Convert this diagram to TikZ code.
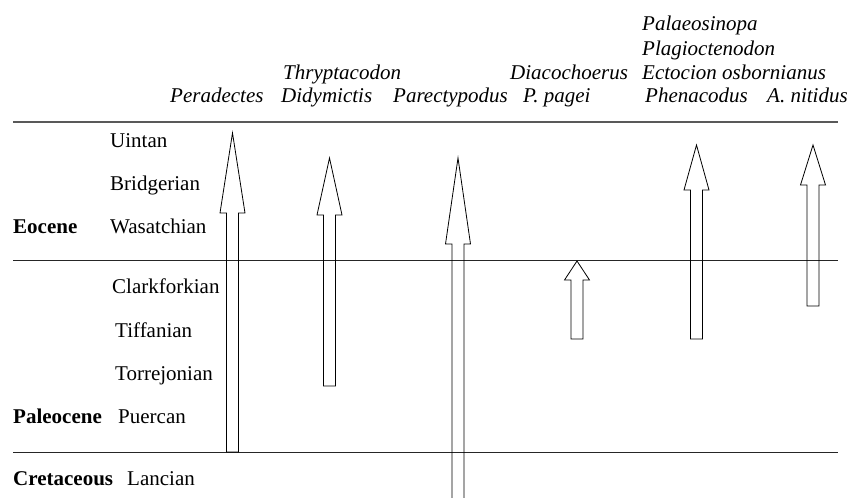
\documentclass[tikz,border=0pt]{standalone}
\usepackage{fontspec}
\setmainfont{Liberation Serif}
\begin{document}
\begin{tikzpicture}[x=1pt,y=-1pt,
  lbl/.style={anchor=base west,inner sep=0pt,font=\fontsize{21}{25}\selectfont},
  taxon/.style={lbl,font=\fontsize{21}{25}\selectfont\itshape},
  epoch/.style={lbl,font=\fontsize{21}{25}\selectfont\bfseries},
  rule/.style={line width=0.9pt,draw=black!85},
  toprule/.style={line width=1.4pt,draw=black!65},
  farrow/.style={line width=0.8pt,draw=black,line join=miter}]
\useasboundingbox (0,0) rectangle (849,498);
\clip (0,0) rectangle (849,498);
% horizontal rules
\coordinate (t0) at (13,122); \coordinate (t1) at (838,122);
\coordinate (m0) at (13,260); \coordinate (m1) at (838,260);
\coordinate (b0) at (13,452); \coordinate (b1) at (838,452);
\draw[toprule] (t0) -- (t1);
\draw[rule] (m0) -- (m1);
\draw[rule] (b0) -- (b1);
% stage labels
\node[lbl] (uin) at (110,147) {Uintan};
\node[lbl] (bri) at (110,190) {Bridgerian};
\node[lbl] (was) at (110,233) {Wasatchian};
\node[epoch] (eoc) at (13,233) {Eocene};
\node[lbl] (cla) at (112,293) {Clarkforkian};
\node[lbl] (tif) at (115,337) {Tiffanian};
\node[lbl] (tor) at (115,380) {Torrejonian};
\node[epoch] (pal) at (13,423) {Paleocene};
\node[lbl] (pue) at (118,423) {Puercan};
\node[epoch] (cre) at (13,485) {Cretaceous};
\node[lbl] (lan) at (127,485) {Lancian};
% taxa
\node[taxon] (per) at (170,102) {Peradectes};
\node[taxon] (thr) at (283,79) {Thryptacodon};
\node[taxon] (did) at (281,102) {Didymictis};
\node[taxon] (parec) at (393,102) {Parectypodus};
\node[taxon] (dia) at (510,79) {Diacochoerus};
\node[taxon] (ppa) at (523,102) {P. pagei};
\node[taxon] (pso) at (642,30) {Palaeosinopa};
\node[taxon] (pla) at (642,55) {Plagioctenodon};
\node[taxon] (ect) at (642,79) {Ectocion osbornianus};
\node[taxon] (phe) at (645,102) {Phenacodus};
\node[taxon] (ani) at (767,102) {A. nitidus};
% range arrows: #1 centre x, #2 tip y, #3 head base y, #4 bottom y
\newcommand{\rangearrow}[4]{%
  \draw[farrow] (#1-6,#4) -- (#1-6,#3) -- (#1-12.5,#3) -- (#1,#2) -- (#1+12.5,#3) -- (#1+6,#3) -- (#1+6,#4) -- cycle;}
\rangearrow{232.5}{133}{213}{452}
\rangearrow{329.5}{158}{215}{386}
\rangearrow{458}{158}{244}{505}
\rangearrow{577}{261}{280}{339}
\rangearrow{696.5}{145}{190}{339}
\rangearrow{813}{145}{185}{306}
\end{tikzpicture}
\end{document}
